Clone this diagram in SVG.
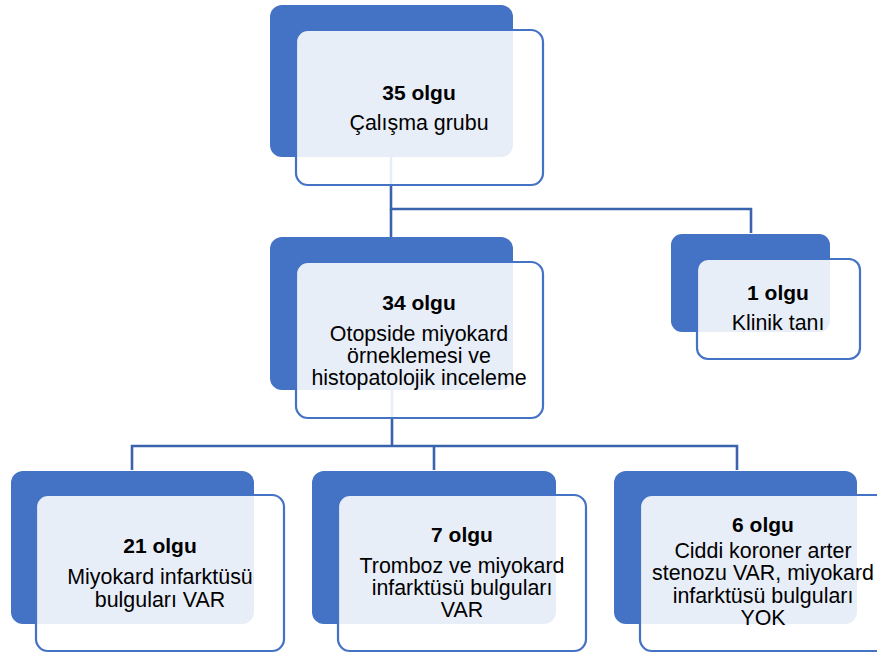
<svg xmlns="http://www.w3.org/2000/svg" width="877" height="654" viewBox="0 0 877 654">
<style>
.back{fill:#4472C4;}
.front{fill:#FFFFFF;fill-opacity:0.88;stroke:#4472C4;stroke-width:2.2;}
.conn{fill:none;stroke:#3A63AD;stroke-width:2.6;}
text{font-family:"Liberation Sans",Arial,sans-serif;font-size:21.4px;fill:#000;text-anchor:middle;}
.b{font-weight:bold;font-size:21px;}
</style>
<rect width="877" height="654" fill="#FFFFFF"/>
<g id="connectors">
<path class="conn" d="M391,157 V209 H751 V233"/>
<path class="conn" d="M391,209 V237"/>
<path class="conn" d="M392,390 V446"/>
<path class="conn" d="M132,470 V446 H737 V470"/>
<path class="conn" d="M434,446 V470"/>
</g>
<g id="n35">
<rect class="back" x="270" y="5" width="243" height="152" rx="12"/>
<rect class="front" x="296" y="30" width="247" height="155" rx="12"/>
<text class="b" x="419" y="100">35 olgu</text>
<text x="419" y="130">Çalışma grubu</text>
</g>
<g id="n34">
<rect class="back" x="270" y="237" width="243" height="153" rx="12"/>
<rect class="front" x="296" y="262" width="247" height="156" rx="12"/>
<text class="b" x="419" y="310">34 olgu</text>
<text x="419" y="341">Otopside miyokard</text>
<text x="419" y="363">örneklemesi ve</text>
<text x="419" y="385">histopatolojik inceleme</text>
</g>
<g id="n1">
<rect class="back" x="671" y="234" width="159" height="98" rx="11"/>
<rect class="front" x="697" y="259" width="163" height="100" rx="11"/>
<text class="b" x="778" y="300">1 olgu</text>
<text x="778" y="330">Klinik tanı</text>
</g>
<g id="n21">
<rect class="back" x="11" y="471" width="243" height="153" rx="12"/>
<rect class="front" x="36" y="495" width="248" height="156" rx="12"/>
<text class="b" x="160" y="553">21 olgu</text>
<text x="160" y="584">Miyokard infarktüsü</text>
<text x="160" y="607">bulguları VAR</text>
</g>
<g id="n7">
<rect class="back" x="312" y="471" width="244" height="153" rx="12"/>
<rect class="front" x="338" y="495" width="248" height="156" rx="12"/>
<text class="b" x="462" y="542">7 olgu</text>
<text x="462" y="573">Tromboz ve miyokard</text>
<text x="462" y="595">infarktüsü bulguları</text>
<text x="462" y="617">VAR</text>
</g>
<g id="n6">
<rect class="back" x="614" y="471" width="243" height="153" rx="12"/>
<rect class="front" x="640" y="495" width="248" height="156" rx="12"/>
<text class="b" x="763" y="532">6 olgu</text>
<text x="763" y="558">Ciddi koroner arter</text>
<text x="763" y="580">stenozu VAR, miyokard</text>
<text x="763" y="603">infarktüsü bulguları</text>
<text x="763" y="625">YOK</text>
</g>
</svg>
